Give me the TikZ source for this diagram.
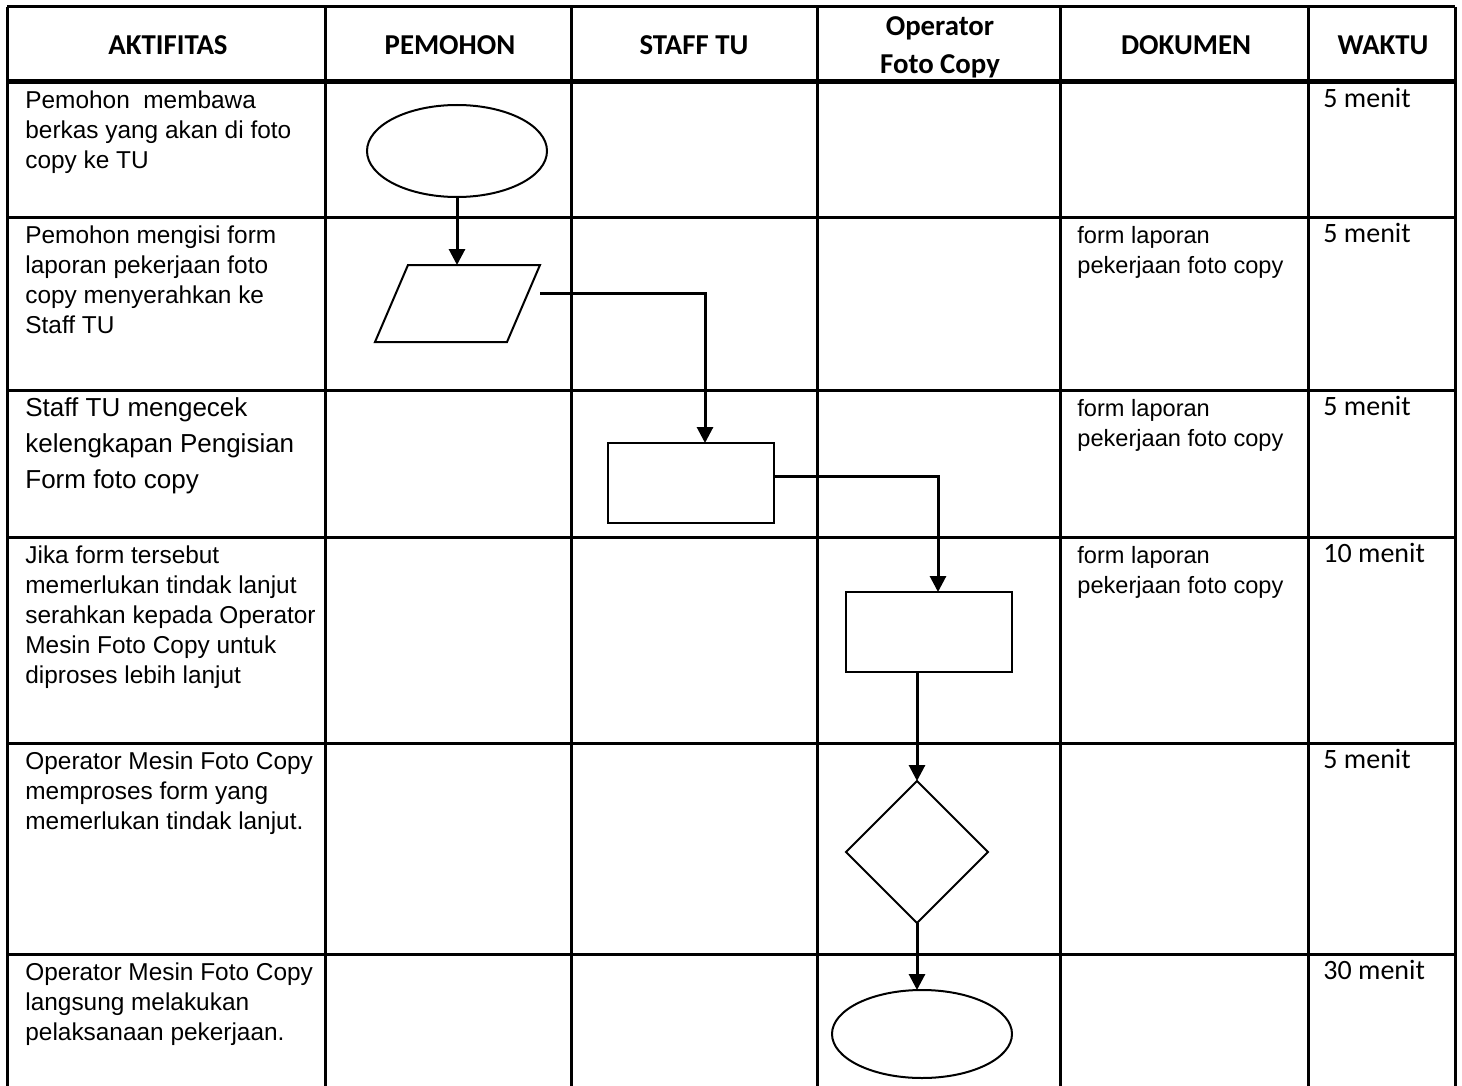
\documentclass[tikz,border=0pt]{standalone}
\usepackage{fontspec}
\setmainfont{Carlito}
\newfontfamily\cellfont{Liberation Sans}
\usetikzlibrary{arrows.meta,shapes.geometric}

\begin{document}
\begin{tikzpicture}[
  x=0.5pt,y=-0.5pt,
  grid/.style={line width=1.5pt},
  head/.style={font=\bfseries\fontsize{14.4}{19}\selectfont,align=center,inner sep=0pt},
  acttxt/.style={anchor=north west,inner sep=0pt,align=left,font=\cellfont\fontsize{12.2}{15}\selectfont},
  timetxt/.style={anchor=north west,inner sep=0pt,font=\fontsize{14}{17}\selectfont},
  symb/.style={draw,line width=1pt,inner sep=0pt,outer sep=0pt},
  flow/.style={line width=1.5pt,-{Triangle[length=8pt,width=8pt]}}
]
  \useasboundingbox (0,0) rectangle (1462,1086);

  % table
  \foreach \x in {7,325,571,817,1060,1308,1455}
    \draw[grid] (\x,7) -- (\x,1086);
  \foreach \y in {7,217,390,537,743,954}
    \draw[grid] (7,\y) -- (1455,\y);
  \draw[line width=2.5pt] (7,82) -- (1455,82);

  % header
  \node[head] (hAkt) at (168,45) {AKTIFITAS};
  \node[head] (hPem) at (450,45) {PEMOHON};
  \node[head] (hStf) at (694,45) {STAFF TU};
  \node[head] (hOpr) at (940,47) {Operator\\Foto Copy};
  \node[head] (hDok) at (1186,45) {DOKUMEN};
  \node[head] (hWkt) at (1383,45) {WAKTU};

  % aktifitas
  \node[acttxt] (act1) at (25,87) {\strut Pemohon\ \ membawa\\berkas yang akan di foto\\copy ke TU};
  \node[acttxt] (act2) at (25,222) {\strut Pemohon mengisi form\\laporan pekerjaan foto\\copy menyerahkan ke\\Staff TU};
  \node[acttxt,font=\cellfont\fontsize{13}{18}\selectfont] (act3) at (25,391) {\strut Staff TU mengecek\\kelengkapan Pengisian\\Form foto copy};
  \node[acttxt] (act4) at (25,542) {\strut Jika form tersebut\\memerlukan tindak lanjut\\serahkan kepada Operator\\Mesin Foto Copy untuk\\diproses lebih lanjut};
  \node[acttxt] (act5) at (25,748) {\strut Operator Mesin Foto Copy\\memproses form yang\\memerlukan tindak lanjut.};
  \node[acttxt] (act6) at (25,959) {\strut Operator Mesin Foto Copy\\langsung melakukan\\pelaksanaan pekerjaan.};

  % dokumen
  \foreach \t [count=\i from 2] in {217,390,537}
    \node[acttxt,font=\cellfont\fontsize{11.8}{15}\selectfont] (dok\i) at (1077,\t+5) {\strut form laporan\\pekerjaan foto copy};

  % waktu
  \foreach \t/\w [count=\i] in {82/5,217/5,390/5,537/10,743/5,954/30}
    \node[timetxt] (time\i) at (1323,\t+1) {\strut\w\ menit};

  % flow symbols
  \node[symb,ellipse,minimum width=90pt,minimum height=46pt] (start) at (457,151) {};
  \node[inner sep=0pt,outer sep=0pt,minimum width=82.5pt,minimum height=38.5pt] (form) at (457.5,303.5) {};
  \draw[line width=1pt] ([xshift=16.5pt]form.north west) -- (form.north east)
    -- ([xshift=-16.5pt]form.south east) -- (form.south west) -- cycle;
  \node[symb,rectangle,minimum width=83pt,minimum height=40pt] (cek) at (691,483) {};
  \node[symb,rectangle,minimum width=83pt,minimum height=40pt] (serah) at (929,632) {};
  \node[symb,diamond,aspect=1,minimum width=71pt,minimum height=71pt] (proses) at (917,852) {};
  \node[symb,ellipse,minimum width=90pt,minimum height=44pt] (selesai) at (922,1034) {};

  \draw[flow] (start.south) -- (start.south |- form.north);
  \draw[flow] ([yshift=5pt]form.east) -| ([xshift=7pt]cek.north);
  \draw[flow] ([yshift=3.5pt]cek.east) -| ([xshift=4.5pt]serah.north);
  \draw[flow] (serah.south -| proses.north) -- (proses.north);
  \draw[flow] (proses.south) -- (proses.south |- selesai.north);
\end{tikzpicture}
\end{document}
